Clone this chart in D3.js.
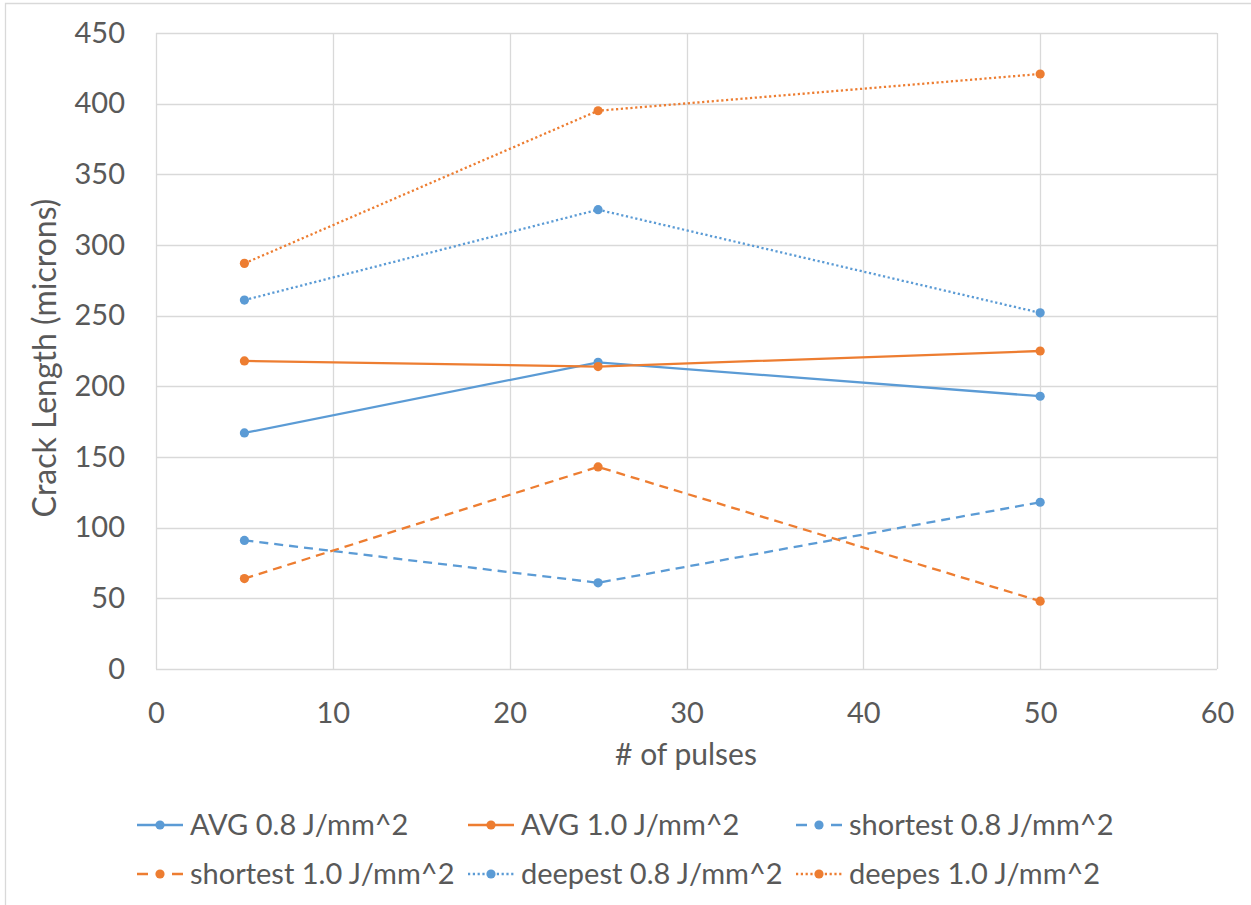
<!DOCTYPE html>
<html>
<head>
<meta charset="utf-8">
<script src="https://cdn.jsdelivr.net/npm/d3@7"></script>
<style>
  body { margin: 0; background: #fff; }
  text { font-family: Lato, "Open Sans", sans-serif; fill: #595959; }
</style>
</head>
<body>
<div id="wrapper"></div>
<script>
// data
const pulses = [5, 25, 50];
const avg08 = [167, 217, 193];
const avg10 = [218, 214, 225];
const shortest08 = [91, 61, 118];
const shortest10 = [64, 143, 48];
const deepest08 = [261, 325, 252];
const deepest10 = [287, 395, 421];
const seriesNames = [
  "AVG 0.8 J/mm^2", "AVG 1.0 J/mm^2", "shortest 0.8 J/mm^2",
  "shortest 1.0 J/mm^2", "deepest 0.8 J/mm^2", "deepes 1.0 J/mm^2"
];
const xTicks = [0, 10, 20, 30, 40, 50, 60];
const yTicks = [0, 50, 100, 150, 200, 250, 300, 350, 400, 450];

const blue = "#5B9BD5", orange = "#ED7D31";
const dashDashed = "9,6", dashDotted = "2.2,2.6";

const series = [
  { name: seriesNames[0], values: avg08, color: blue, dash: null },
  { name: seriesNames[1], values: avg10, color: orange, dash: null },
  { name: seriesNames[2], values: shortest08, color: blue, dash: dashDashed },
  { name: seriesNames[3], values: shortest10, color: orange, dash: dashDashed },
  { name: seriesNames[4], values: deepest08, color: blue, dash: dashDotted },
  { name: seriesNames[5], values: deepest10, color: orange, dash: dashDotted },
]

// dimensions
let dimensions = {
  width: 1251,
  height: 905,
  margin: { top: 33, right: 34, bottom: 236, left: 156 },
}
dimensions.boundedWidth = dimensions.width - dimensions.margin.left - dimensions.margin.right
dimensions.boundedHeight = dimensions.height - dimensions.margin.top - dimensions.margin.bottom

const wrapper = d3.select("#wrapper")
  .append("svg")
    .attr("width", dimensions.width)
    .attr("height", dimensions.height)

// chart border (only top and left show in the crop)
wrapper.append("path")
  .attr("d", "M5.5,905 V3.5 H1251")
  .attr("fill", "none")
  .attr("stroke", "#D9D9D9")
  .attr("stroke-width", 1.3)

const bounds = wrapper.append("g")
  .attr("transform", `translate(${dimensions.margin.left},${dimensions.margin.top})`)

// scales
const xScale = d3.scaleLinear()
  .domain([0, 60])
  .range([0, dimensions.boundedWidth])

const yScale = d3.scaleLinear()
  .domain([0, 450])
  .range([dimensions.boundedHeight, 0])

// gridlines
bounds.append("g")
  .selectAll("line")
  .data(yTicks)
  .join("line")
    .attr("x1", 0).attr("x2", dimensions.boundedWidth)
    .attr("y1", d => Math.round(yScale(d)) + 0.5)
    .attr("y2", d => Math.round(yScale(d)) + 0.5)
    .attr("stroke", "#D9D9D9")
    .attr("stroke-width", 1.3)

bounds.append("g")
  .selectAll("line")
  .data(xTicks)
  .join("line")
    .attr("y1", 0).attr("y2", dimensions.boundedHeight)
    .attr("x1", d => Math.round(xScale(d)) + 0.5)
    .attr("x2", d => Math.round(xScale(d)) + 0.5)
    .attr("stroke", "#D9D9D9")
    .attr("stroke-width", 1.3)

// axes (labels only, Excel style)
const xAxis = bounds.append("g")
  .attr("transform", `translate(0,${dimensions.boundedHeight})`)
  .call(d3.axisBottom(xScale).tickValues(xTicks).tickSize(0).tickPadding(33))
xAxis.select(".domain").remove()
xAxis.selectAll("text")
  .style("font-size", "29px")
  .attr("fill", "#595959")

const yAxis = bounds.append("g")
  .call(d3.axisLeft(yScale).tickValues(yTicks).tickSize(0).tickPadding(31))
yAxis.select(".domain").remove()
yAxis.selectAll("text")
  .style("font-size", "29px")
  .attr("fill", "#595959")

// axis titles
wrapper.append("text")
  .attr("x", 686).attr("y", 765)
  .attr("text-anchor", "middle")
  .style("font-size", "30px")
  .text("# of pulses")

wrapper.append("text")
  .attr("transform", "translate(56,358) rotate(-90)")
  .attr("text-anchor", "middle")
  .style("font-size", "32px")
  .text("Crack Length (microns)")

// lines
const lineGenerator = d3.line()
  .x((d, i) => xScale(pulses[i]))
  .y(d => yScale(d))

const seriesGroups = bounds.selectAll(".series")
  .data(series)
  .join("g")
    .attr("class", "series")

seriesGroups.append("path")
  .attr("d", d => lineGenerator(d.values))
  .attr("fill", "none")
  .attr("stroke", d => d.color)
  .attr("stroke-width", 2.3)
  .attr("stroke-dasharray", d => d.dash)

seriesGroups.selectAll("circle")
  .data(d => d.values.map((v, i) => ({ v, i, color: d.color })))
  .join("circle")
    .attr("cx", d => xScale(pulses[d.i]))
    .attr("cy", d => yScale(d.v))
    .attr("r", 4.6)
    .attr("fill", d => d.color)

// legend
const legendCols = [137, 468, 796]
const legendRows = [825, 874]
const legend = wrapper.append("g")
  .selectAll("g")
  .data(series)
  .join("g")
    .attr("transform", (d, i) => `translate(${legendCols[i % 3]},${legendRows[Math.floor(i / 3)]})`)

legend.append("line")
  .attr("x1", 0).attr("x2", 46)
  .attr("y1", 0).attr("y2", 0)
  .attr("stroke", d => d.color)
  .attr("stroke-width", 2.3)
  .attr("stroke-dasharray", d => d.dash === dashDashed ? "11,24,11" : d.dash)

legend.append("circle")
  .attr("cx", 23).attr("cy", 0).attr("r", 4.6)
  .attr("fill", d => d.color)

legend.append("text")
  .attr("x", 53).attr("y", 10)
  .style("font-size", "29px")
  .text(d => d.name)
</script>
</body>
</html>
